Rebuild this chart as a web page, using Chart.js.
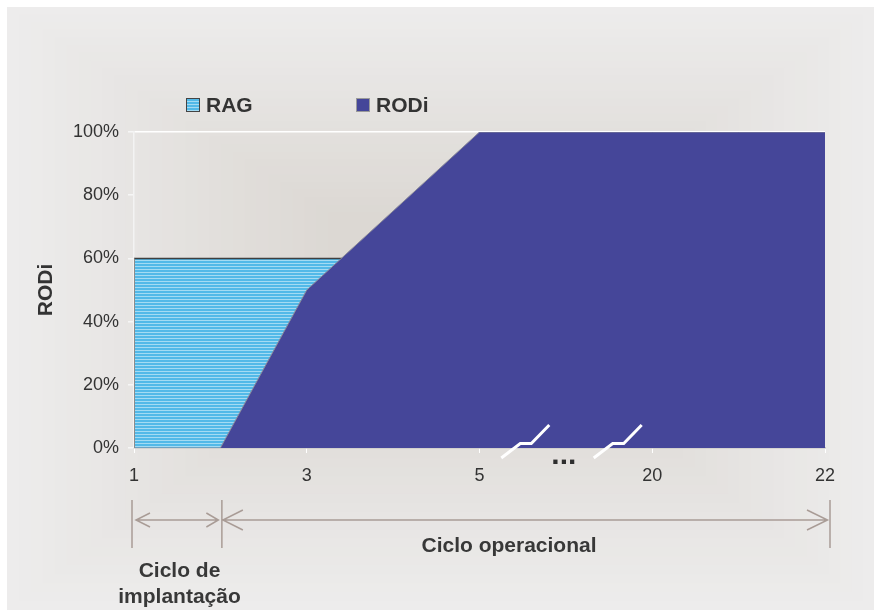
<!DOCTYPE html>
<html>
<head>
<meta charset="utf-8">
<style>
html,body{margin:0;padding:0;background:#ffffff;}
#wrap{width:874px;height:610px;}
</style>
<script src="https://cdn.jsdelivr.net/npm/chart.js@4/dist/chart.umd.min.js"></script>
</head>
<body>
<div id="wrap"><canvas id="c" width="874" height="610"></canvas></div>
<script>
// ---- data ----
const categories = ['1', '2', '3', '4', '5', '...', '20', '21', '22'];
const shownTicks = ['1', '3', '5', '20', '22'];
const seriesNames = ['RAG', 'RODi'];
const ragValues  = [60, 60, 60, 60, 60, 60, 60, 60, 60];
const rodiValues = [0, 0, 50, 75, 100, 100, 100, 100, 100];
const yTickValues = [0, 20, 40, 60, 80, 100];
const yTitle = 'RODi';
const phaseLabels = ['Ciclo de', 'implantação', 'Ciclo operacional'];

const FONT = '"Liberation Sans", Arial, sans-serif';
const TEXT = '#333333';

// striped light-blue pattern for RAG
function stripePattern() {
  const pc = document.createElement('canvas');
  pc.width = 4; pc.height = 3;
  const p = pc.getContext('2d');
  p.fillStyle = '#52b9e8'; p.fillRect(0, 0, 4, 3);
  p.fillStyle = '#a3dbf3'; p.fillRect(0, 2, 4, 1);
  return document.getElementById('c').getContext('2d').createPattern(pc, 'repeat');
}
const ragFill = stripePattern();
const rodiColor = '#454699';

const bgPlugin = {
  id: 'bg',
  beforeDraw(chart) {
    const ctx = chart.ctx;
    const W = chart.width, H = chart.height;
    ctx.save();
    ctx.fillStyle = '#ffffff';
    ctx.fillRect(0, 0, W, H);
    const x0 = 7, y0 = 7, x1 = W, y1 = H;
    const cx = 450, cy = 290;
    const steps = 28;
    const outer = [237, 236, 236], inner = [219, 215, 210];
    for (let i = 0; i < steps; i++) {
      const t = i / steps;
      const l = x0 + (cx - 110 - x0) * t, r = x1 + (cx + 110 - x1) * t;
      const tp = y0 + (cy - 70 - y0) * t, b = y1 + (cy + 70 - y1) * t;
      const c = outer.map((o, k) => Math.round(o + (inner[k] - o) * t));
      ctx.fillStyle = 'rgb(' + c.join(',') + ')';
      ctx.fillRect(l, tp, r - l, b - tp);
    }
    ctx.restore();
  }
};

const decoPlugin = {
  id: 'deco',
  afterDraw(chart) {
    const ctx = chart.ctx;
    const xs = chart.scales.x;
    const ys = chart.scales.y;
    const area = chart.chartArea;
    ctx.save();

    // left edge of RAG area
    ctx.strokeStyle = '#8c8c8c';
    ctx.lineWidth = 1;
    ctx.beginPath();
    ctx.moveTo(area.left + 0.5, ys.getPixelForValue(ragValues[0]));
    ctx.lineTo(area.left + 0.5, area.bottom);
    ctx.stroke();

    // legend
    const ds = chart.data.datasets;
    const legendPos = [186, 356];
    ds.forEach((d, i) => {
      const bx = legendPos[i];
      ctx.fillStyle = d.backgroundColor;
      ctx.fillRect(bx, 98, 14, 14);
      ctx.lineWidth = 1;
      ctx.strokeStyle = i === 0 ? '#444444' : '#9a9a9a';
      ctx.strokeRect(bx + 0.5, 98.5, 13, 13);
      ctx.fillStyle = TEXT;
      ctx.font = 'bold 21px ' + FONT;
      ctx.textAlign = 'left';
      ctx.textBaseline = 'alphabetic';
      ctx.fillText(d.label, bx + 20, 112);
    });

    // axis break marks
    const axisY = area.bottom;
    [4.53, 5.6].forEach(v => {
      const cx = xs.getPixelForValue(v);
      ctx.strokeStyle = '#ffffff';
      ctx.lineWidth = 3;
      ctx.lineCap = 'butt';
      ctx.beginPath();
      ctx.moveTo(cx - 24, axisY + 10);
      ctx.lineTo(cx - 5, axisY - 4.5);
      ctx.lineTo(cx + 6, axisY - 4.5);
      ctx.lineTo(cx + 24, axisY - 23);
      ctx.stroke();
    });

    // ellipsis under the break
    ctx.fillStyle = '#2e2e2e';
    ctx.font = 'bold 30px ' + FONT;
    ctx.textAlign = 'center';
    ctx.textBaseline = 'alphabetic';
    ctx.fillText(categories[5], xs.getPixelForValue(5) - 2, 463.5);

    // phase brackets
    const xa = xs.getPixelForValue(0) - 2;
    const xb = xs.getPixelForValue(1) + 1.5;
    const xc = xs.getPixelForValue(8) + 5;
    const ay = 520;
    ctx.strokeStyle = '#a99c96';
    ctx.lineWidth = 1.5;
    ctx.beginPath();
    [xa, xb, xc].forEach(x => { ctx.moveTo(x, 500); ctx.lineTo(x, 548); });
    // arrow 1
    ctx.moveTo(xa + 4, ay); ctx.lineTo(xb - 3.5, ay);
    ctx.moveTo(xa + 18, ay - 7); ctx.lineTo(xa + 4, ay); ctx.lineTo(xa + 18, ay + 7);
    ctx.moveTo(xb - 15.5, ay - 7); ctx.lineTo(xb - 3.5, ay); ctx.lineTo(xb - 15.5, ay + 7);
    // arrow 2
    ctx.moveTo(xb + 1, ay); ctx.lineTo(xc - 2.5, ay);
    ctx.moveTo(xb + 21, ay - 10); ctx.lineTo(xb + 1, ay); ctx.lineTo(xb + 21, ay + 10);
    ctx.moveTo(xc - 23, ay - 10); ctx.lineTo(xc - 2.5, ay); ctx.lineTo(xc - 23, ay + 10);
    ctx.stroke();

    ctx.fillStyle = '#383838';
    ctx.font = 'bold 21px ' + FONT;
    ctx.textAlign = 'center';
    ctx.fillText(phaseLabels[0], 179.5, 577);
    ctx.fillText(phaseLabels[1], 179.5, 603);
    ctx.fillText(phaseLabels[2], 509, 551.5);

    ctx.restore();
  }
};

new Chart(document.getElementById('c'), {
  type: 'line',
  data: {
    labels: categories,
    datasets: [
      {
        label: seriesNames[0],
        data: ragValues,
        fill: 'origin',
        backgroundColor: ragFill,
        borderColor: '#3f3f3f',
        borderWidth: 1.5,
        pointRadius: 0,
        tension: 0,
        order: 2
      },
      {
        label: seriesNames[1],
        data: rodiValues,
        fill: 'origin',
        backgroundColor: rodiColor,
        borderColor: '#8a8a9a',
        borderWidth: 1,
        pointRadius: 0,
        tension: 0,
        order: 1
      }
    ]
  },
  options: {
    responsive: false,
    animation: false,
    devicePixelRatio: 1,
    layout: { padding: { left: 25, right: 49, top: 132, bottom: 122 } },
    plugins: {
      legend: { display: false },
      tooltip: { enabled: false },
      title: { display: false }
    },
    scales: {
      x: {
        type: 'category',
        offset: false,
        afterFit(s) { s.height = 40; },
        border: { display: true, color: '#c4c2c0', width: 1.5 },
        grid: {
          drawOnChartArea: false,
          drawTicks: true,
          tickLength: 5,
          tickColor: (c) => shownTicks.includes(categories[c.index]) ? '#ffffff' : 'rgba(0,0,0,0)'
        },
        ticks: {
          autoSkip: false,
          maxRotation: 0,
          padding: 12,
          color: TEXT,
          font: { family: FONT, size: 18 },
          callback: (v, i) => shownTicks.includes(categories[i]) ? categories[i] : ''
        }
      },
      y: {
        min: 0,
        max: 100,
        afterFit(s) { s.width = 109; },
        afterBuildTicks(s) { s.ticks = yTickValues.map(v => ({ value: v })); },
        border: { display: true, color: '#f3f3f3', width: 1.5 },
        grid: {
          drawOnChartArea: true,
          color: (c) => (c.tick && c.tick.value === 100) ? '#ffffff' : 'rgba(0,0,0,0)',
          tickColor: '#f6f6f6',
          tickLength: 6,
          lineWidth: 1.5
        },
        ticks: {
          padding: 9,
          color: TEXT,
          font: { family: FONT, size: 18 },
          callback: (v) => v + '%'
        },
        title: {
          display: true,
          text: yTitle,
          color: TEXT,
          font: { family: FONT, size: 21, weight: 'bold' },
          padding: { top: 9, bottom: 0 }
        }
      }
    }
  },
  plugins: [bgPlugin, decoPlugin]
});
</script>
</body>
</html>
